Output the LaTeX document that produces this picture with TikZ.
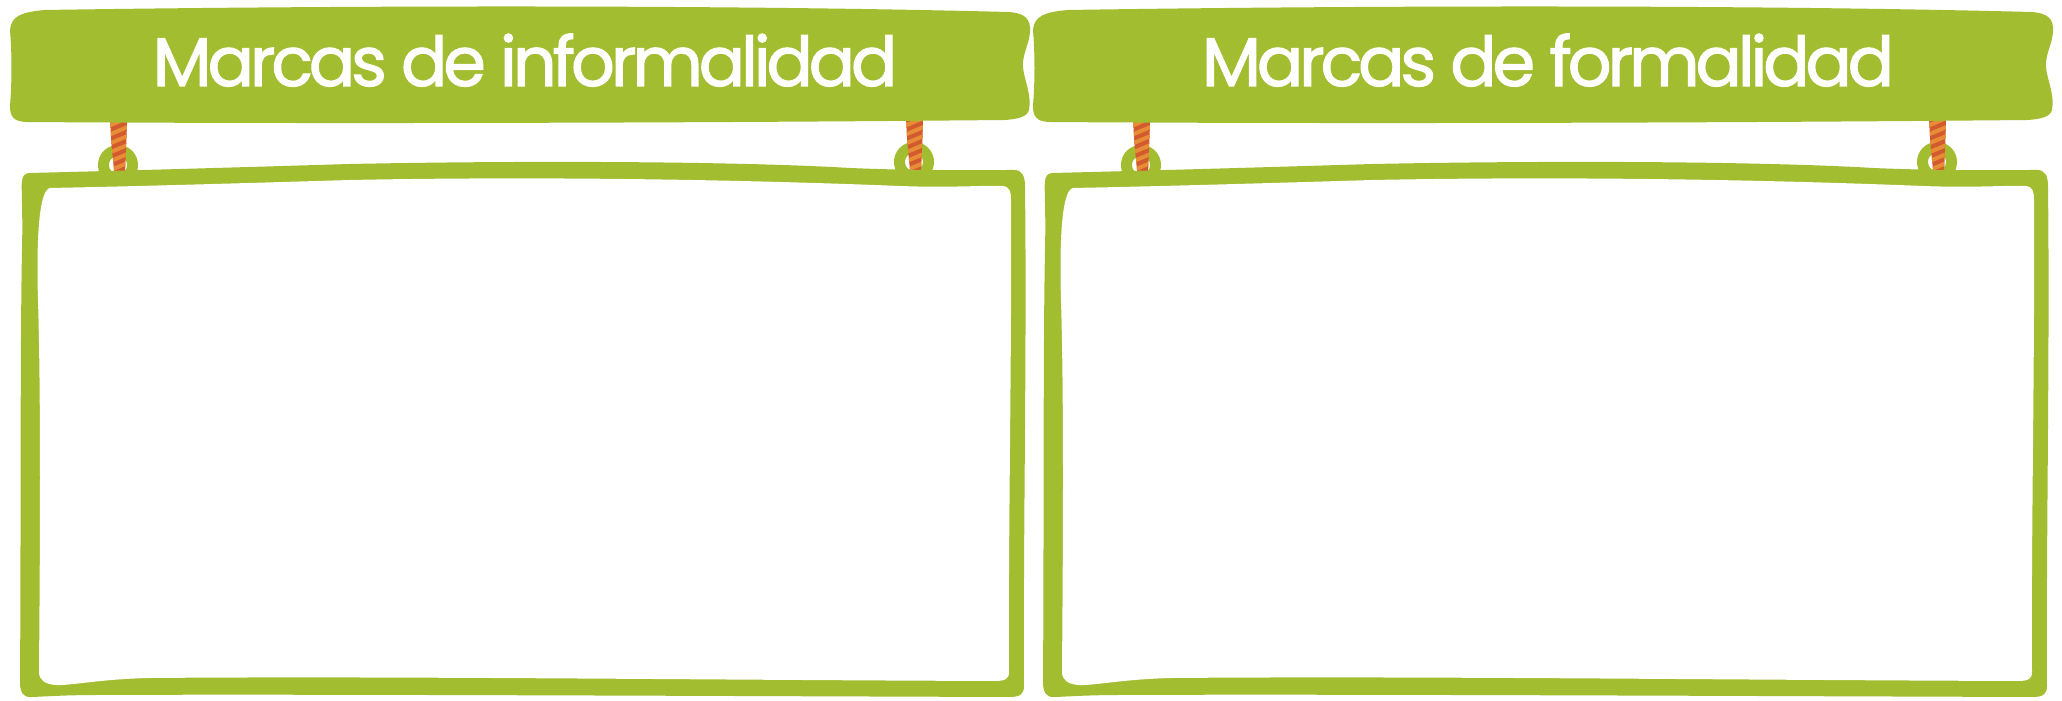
\documentclass[tikz,border=0pt]{standalone}
\usepackage{fontspec}
\newfontfamily\letrero{Poppins}[FakeBold=1.6, LetterSpace=-6]
\definecolor{tablaverde}{HTML}{A3BD31}
\definecolor{cuerdaroja}{HTML}{D35A2E}
\definecolor{cuerdanaranja}{HTML}{E68D36}

\tikzset{
  titulo/.style={text=white, font=\letrero\fontsize{19.5}{23}\selectfont, anchor=base},
  aro/.style={draw=tablaverde, line width=0.11cm},
}

\begin{document}
\begin{tikzpicture}[x=0.01cm, y=-0.01cm]
\fill[white] (0,0) rectangle (2062,701);
\useasboundingbox (0,0) rectangle (2062,701);

\foreach \dx/\texto/\nombre in {0/Marcas de informalidad/izq, 1023/Marcas de formalidad/der} {
\begin{scope}[shift={(\dx,0)}]
% aros y cuerdas
\foreach \cx/\cy in {118/165, 914/162} {
  \draw[aro] (\cx,\cy) circle[radius=0.145cm];
  \begin{scope}
    \clip (\cx-8,115) .. controls (\cx-7,150) and (\cx-4,165) .. (\cx-3,182) -- (\cx+7,182) .. controls (\cx+7,160) and (\cx+9,140) .. (\cx+9,115) -- cycle;
    \fill[cuerdaroja] (\cx-12,110) rectangle (\cx+12,185);
    \foreach \k in {0,...,7}
      \draw[cuerdanaranja, line width=0.04cm] (\cx-12,127+\k*9) -- (\cx+12,117+\k*9);
  \end{scope}
}
% marco
\fill[tablaverde] (30,173) .. controls (150,170) and (250,167) .. (350,164)
  .. controls (550,160) and (750,162) .. (850,168)
  .. controls (920,171) and (980,170) .. (1014,170)
  .. controls (1022,170) and (1025,176) .. (1025,186)
  .. controls (1027,350) and (1023,550) .. (1024,686)
  .. controls (1024,694) and (1020,697) .. (1010,697)
  .. controls (700,696) and (300,694) .. (100,695)
  .. controls (60,695) and (40,697) .. (30,697)
  .. controls (23,697) and (20,692) .. (20,682)
  .. controls (21,550) and (20,350) .. (22,250)
  .. controls (23,210) and (21,185) .. (22,182)
  .. controls (22,176) and (25,173) .. (30,173) -- cycle;
\fill[white] (50,188) .. controls (150,186) and (250,183) .. (350,180)
  .. controls (550,176) and (750,180) .. (900,186)
  .. controls (950,188) and (990,185) .. (1003,186)
  .. controls (1010,187) and (1011,192) .. (1011,200)
  .. controls (1012,350) and (1008,550) .. (1009,672)
  .. controls (1009,679) and (1005,681) .. (995,681)
  .. controls (700,680) and (400,676) .. (150,678)
  .. controls (100,679) and (70,686) .. (55,685)
  .. controls (45,684) and (39,680) .. (39,672)
  .. controls (40,550) and (41,400) .. (38,300)
  .. controls (36,230) and (40,190) .. (50,188) -- cycle;
% tabla del titulo
\fill[tablaverde] (10,30) .. controls (11,16) and (22,12) .. (45,10)
  .. controls (300,6) and (700,4) .. (1008,12)
  .. controls (1024,13) and (1031,18) .. (1030,32)
  .. controls (1029,45) and (1022,55) .. (1023,67)
  .. controls (1024,80) and (1032,95) .. (1029,110)
  .. controls (1027,117) and (1018,119) .. (1005,120)
  .. controls (700,123) and (300,124) .. (25,122)
  .. controls (13,121) and (10,116) .. (10,106)
  .. controls (12,80) and (12,55) .. (10,30) -- cycle;
\node[titulo] (titulo\nombre) at (525,86) {\texto};
\end{scope}
}
\end{tikzpicture}
\end{document}
